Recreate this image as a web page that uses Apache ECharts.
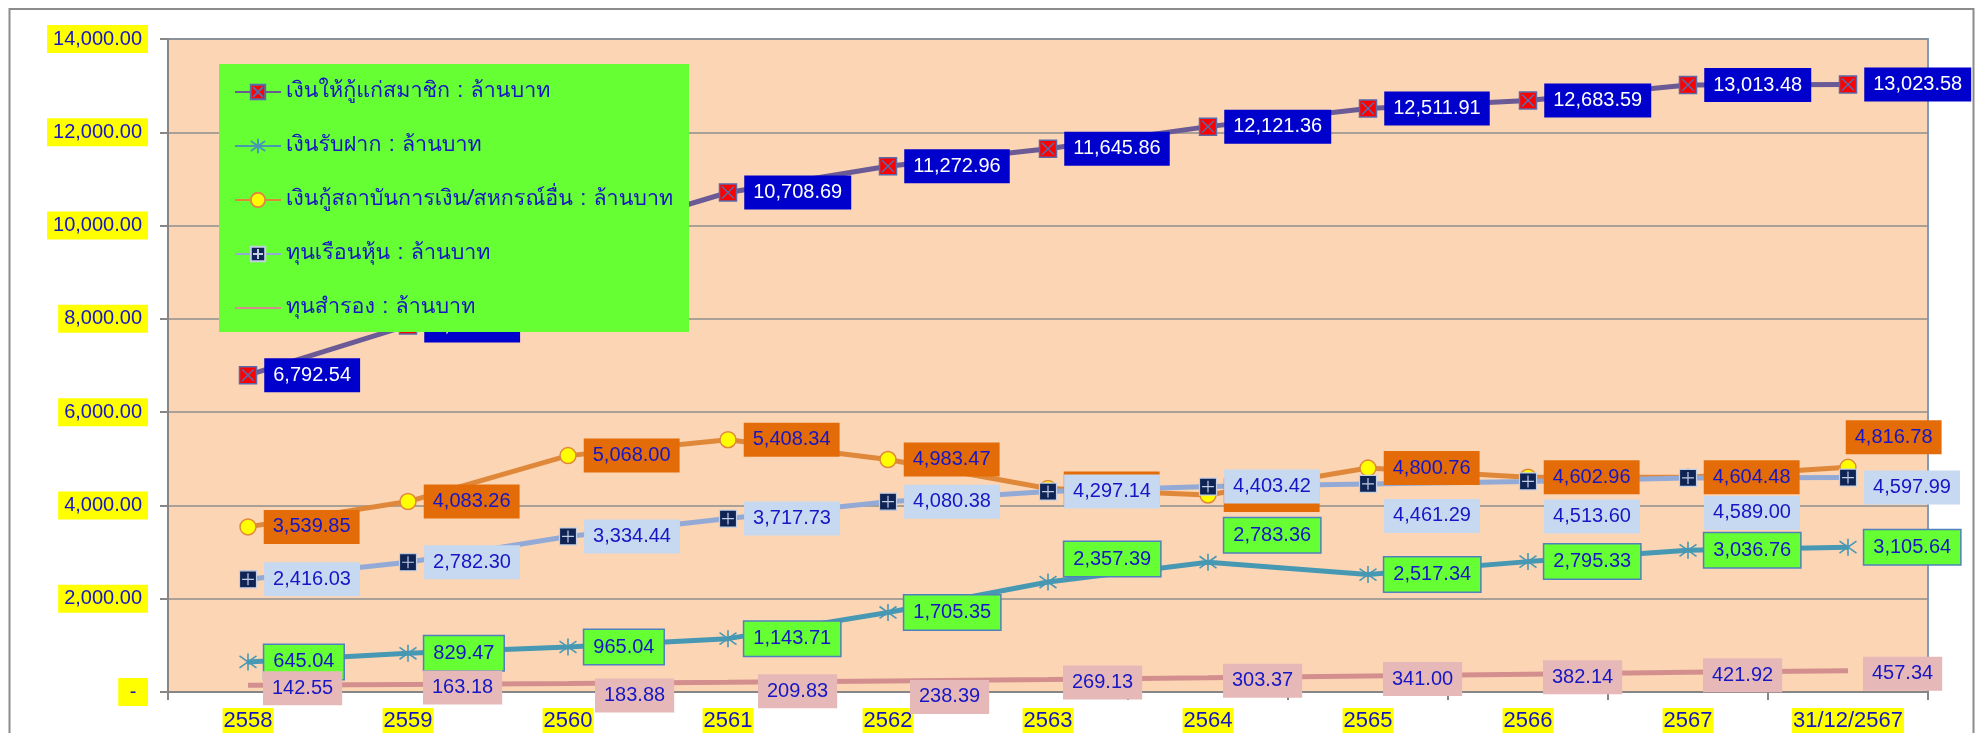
<!DOCTYPE html>
<html><head><meta charset="utf-8">
<script src="https://cdn.jsdelivr.net/npm/echarts@6/dist/echarts.min.js"></script>
<style>html,body{margin:0;padding:0;background:#fff}#c{width:1980px;height:733px}</style>
</head><body><div id="c"></div>
<script>
// ---- data ----
const categories = ['2558','2559','2560','2561','2562','2563','2564','2565','2566','2567','31/12/2567'];
const seriesNames = [
  'เงินให้กู้แก่สมาชิก : ล้านบาท',
  'เงินรับฝาก : ล้านบาท',
  'เงินกู้สถาบันการเงิน/สหกรณ์อื่น : ล้านบาท',
  'ทุนเรือนหุ้น : ล้านบาท',
  'ทุนสำรอง : ล้านบาท'
];
const loansToMembers = [6792.54, 7858.27, 9681.00, 10708.69, 11272.96, 11645.86, 12121.36, 12511.91, 12683.59, 13013.48, 13023.58];
const deposits       = [645.04, 829.47, 965.04, 1143.71, 1705.35, 2357.39, 2783.36, 2517.34, 2795.33, 3036.76, 3105.64];
const borrowings     = [3539.85, 4083.26, 5068.00, 5408.34, 4983.47, 4363.00, 4224.00, 4800.76, 4602.96, 4604.48, 4816.78];
const shareCapital   = [2416.03, 2782.30, 3334.44, 3717.73, 4080.38, 4297.14, 4403.42, 4461.29, 4513.60, 4589.00, 4597.99];
const reserves       = [142.55, 163.18, 183.88, 209.83, 238.39, 269.13, 303.37, 341.00, 382.14, 421.92, 457.34];
const yMin = 0, yMax = 14000, yInterval = 2000;

// ---- layout / style (not data) ----
const labelNudge = [
  {},
  {5:[0,-23], 6:[0,-27]},
  {10:[-18,-30]},
  {7:[0,32], 8:[0,35], 9:[0,35], 10:[0,10]},
  {0:[0,3],1:[0,3],2:[12,12],3:[15,9],4:[7,16],5:[0,3],6:[0,3],7:[0,3],8:[0,3],9:[0,3],10:[0,3]}
];
const NUM_FONT = "'Liberation Sans', Arial, sans-serif";
const THAI_FONT = "Tahoma, 'Loma', 'Garuda', 'Noto Sans Thai', 'Noto Sans Thai UI', 'Noto Sans', sans-serif";
const TXT_BLUE = '#1616c4';
const SYM_X = 'path://M0,0H10V10H0Z M1.5,1.5L8.5,8.5 M8.5,1.5L1.5,8.5';
const SYM_STAR = 'path://M5,0V10 M0.8,1.5L9.2,8.5 M9.2,1.5L0.8,8.5';
const SYM_PLUS = 'path://M0,0H10V10H0Z M5,1.5V8.5 M1.5,5H8.5';

function fmt(v){ return Number(v).toLocaleString('en-US',{minimumFractionDigits:2, maximumFractionDigits:2}); }

const styles = [
  {sym:SYM_X, size:17, line:'#6a5a96', fill:'#ff0000', border:'#5a6aa8', bw:1.5, bg:'#0000cd', tc:'#ffffff', lb:null},
  {sym:SYM_STAR, size:17, line:'#4798b3', fill:'rgba(0,0,0,0)', border:'#4798b3', bw:1.6, bg:'#66ff33', tc:TXT_BLUE, lb:'#4f81bd'},
  {sym:'circle', size:16, line:'#e0883a', fill:'#ffff00', border:'#e0883a', bw:1.5, bg:'#e36c09', tc:TXT_BLUE, lb:null},
  {sym:SYM_PLUS, size:17, line:'#93aad6', fill:'#0f2454', border:'#c3cfe4', bw:1.2, bg:'#c6d9f1', tc:TXT_BLUE, lb:null},
  {sym:'circle', size:16, line:'#d38f8e', fill:'rgba(0,0,0,0)', border:'rgba(0,0,0,0)', bw:0, bg:'#e6b9b8', tc:TXT_BLUE, lb:null}
];
const valueLists = [loansToMembers, deposits, borrowings, shareCapital, reserves];

const series = valueLists.map((vals, si) => {
  const s = styles[si];
  return {
    type:'line', name: seriesNames[si],
    data: vals.map((v,i) => labelNudge[si][i] ? {value:v, label:{offset:labelNudge[si][i]}} : v),
    symbol: s.sym, symbolSize: s.size, showSymbol:true,
    lineStyle:{color:s.line, width:5},
    itemStyle:{color:s.fill, borderColor:s.border, borderWidth:s.bw},
    label:{
      show:true, position:'right', distance:7,
      formatter: p => fmt(p.value),
      fontFamily: NUM_FONT, fontSize:20, lineHeight:20, color:s.tc,
      backgroundColor:s.bg, borderColor:s.lb || 'transparent', borderWidth: s.lb ? 1.5 : 0,
      padding:[7,9,7,9]
    },
    emphasis:{disabled:true},
    animation:false
  };
});

const chart = echarts.init(document.getElementById('c'), null, {renderer:'canvas'});
chart.setOption({
  animation:false,
  backgroundColor:'#ffffff',
  grid:{left:168, right:52, top:39, bottom:41, show:true, backgroundColor:'#fcd5b5',
        borderColor:'#7f9cbd', borderWidth:2, containLabel:false, outerBoundsMode:'none'},
  xAxis:{
    type:'category', data:categories, boundaryGap:true,
    axisLine:{show:true, lineStyle:{color:'#868686', width:2}},
    axisTick:{show:true, alignWithLabel:false, interval:0, length:8, lineStyle:{color:'#868686', width:2}},
    splitLine:{show:false},
    axisLabel:{interval:0, margin:16, fontFamily:NUM_FONT, fontSize:22, lineHeight:24,
               color:TXT_BLUE, backgroundColor:'#ffff00', padding:[1,1,1,1]}
  },
  yAxis:{
    type:'value', min:yMin, max:yMax, interval:yInterval,
    axisLine:{show:true, lineStyle:{color:'#868686', width:2}},
    axisTick:{show:true, length:8, lineStyle:{color:'#868686', width:2}},
    splitLine:{show:true, lineStyle:{color:'#8e8e8e', width:1.5}},
    axisLabel:{margin:20, formatter: v => v === 0 ? ' - ' : fmt(v),
               fontFamily:NUM_FONT, fontSize:20, lineHeight:20, color:TXT_BLUE,
               backgroundColor:'#ffff00', padding:[4,6,4,6]}
  },
  legend:{
    show:true, orient:'vertical', left:219, top:64, padding:[13,17,13,15],
    itemWidth:46, itemHeight:18, itemGap:24, selectedMode:false, z:10,
    textStyle:{fontFamily:THAI_FONT, fontSize:21.5, lineHeight:30, color:TXT_BLUE},
    data: seriesNames
  },
  graphic:[
    {type:'rect', z:9, silent:true, shape:{x:219, y:64, width:470, height:268}, style:{fill:'#66ff33'}},
    {type:'rect', z:0, silent:true, shape:{x:9.5, y:9, width:1964, height:760}, style:{fill:'none', stroke:'#8c8c8c', lineWidth:2}}
  ],
  series: series
});
</script>
</body></html>
